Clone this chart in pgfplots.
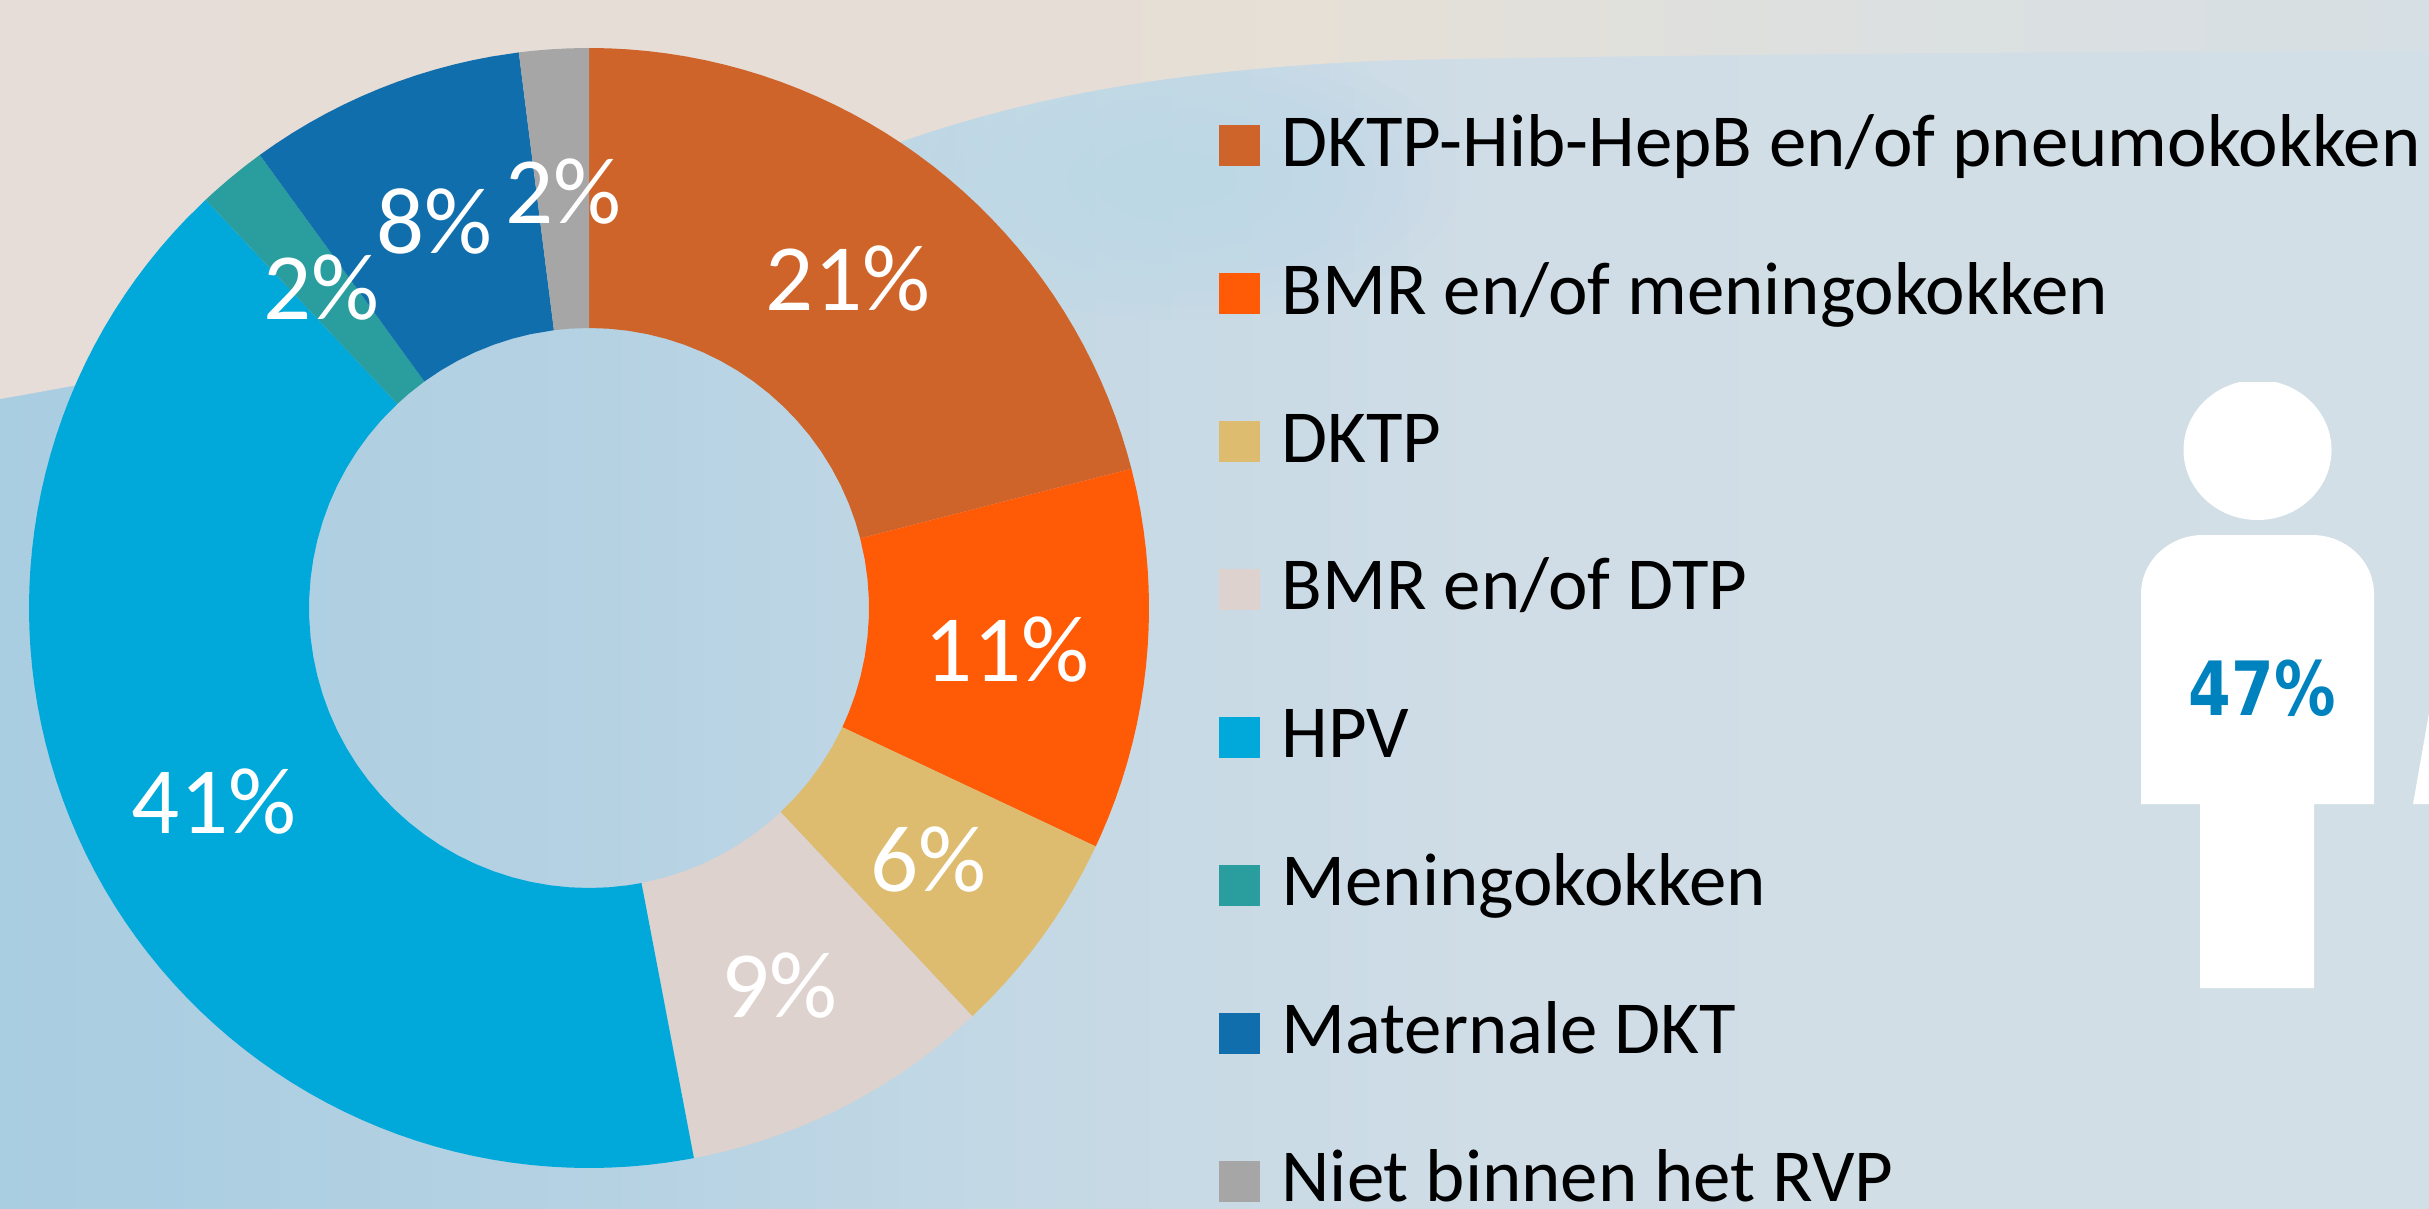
\documentclass[border=0pt]{standalone}
\usepackage{fontspec}
\usepackage{pgfplots}
\pgfplotsset{compat=1.18}
\setmainfont{Carlito}
\newfontfamily\verd{DejaVu Sans}
\definecolor{cA}{HTML}{CF642B}
\definecolor{cB}{HTML}{FF5A05}
\definecolor{cC}{HTML}{DDBC6F}
\definecolor{cD}{HTML}{DDD2CD}
\definecolor{cE}{HTML}{01A9DB}
\definecolor{cF}{HTML}{2A9D9F}
\definecolor{cG}{HTML}{116EAD}
\definecolor{cH}{HTML}{A6A6A6}
\definecolor{b0}{HTML}{A9CDE1}
\definecolor{b1}{HTML}{B5D2E3}
\definecolor{b2}{HTML}{C3D8E5}
\definecolor{b3}{HTML}{D0DDE6}
\definecolor{b4}{HTML}{D3DFE6}
\definecolor{t0}{HTML}{E6DDD8}
\definecolor{t1}{HTML}{E6DDD6}
\definecolor{t2}{HTML}{E6E0D6}
\definecolor{t3}{HTML}{DDE0DF}
\definecolor{t4}{HTML}{D6DFE4}
\definecolor{halo}{HTML}{B6D8E8}
\definecolor{pct}{HTML}{0082BE}
\pgfdeclarehorizontalshading{bgblue}{100bp}{color(0bp)=(b0); color(25bp)=(b0); color(37.5bp)=(b1); color(45.5bp)=(b2); color(56bp)=(b3); color(75bp)=(b4); color(100bp)=(b4)}
\pgfdeclarehorizontalshading{bgtop}{100bp}{color(0bp)=(t0); color(25bp)=(t0); color(45bp)=(t1); color(52bp)=(t2); color(62bp)=(t3); color(75bp)=(t4); color(100bp)=(t4)}
\newcommand{\topband}{(0,-60) -- (0,355) .. controls (400,285) and (650,210) .. (867,110) .. controls (1000,60) and (1150,25) .. (1400,16) .. controls (1700,10) and (2100,8) .. (2429,6) -- (2429,-60) -- cycle}
\begin{document}
\begin{tikzpicture}
\useasboundingbox (0,0) rectangle (242.9mm,120.8mm);
\clip (0,0) rectangle (242.9mm,120.8mm);
\begin{scope}[x=.1mm,y=-.1mm,yshift=120.8mm]
\shade[shading=bgblue] (0,0) rectangle (2429,1208);
\foreach \r in {1,.9,.8,.7,.6,.5,.4,.3,.2}{
  \fill[halo,opacity=.07] (1180,180) ellipse [x radius=\r*280,y radius=\r*140];
}
\foreach \s/\o in {-44/1,-40/.12,-35/.12,-30/.12,-25/.12,-20/.12,-15/.12,-10/.12,-5/.12,0/.12,5/.12,10/.12,15/.12,20/.12,25/.12,30/.12,35/.12,40/.12}{
  \begin{scope}[yshift=\s*.1mm]
  \clip \topband;
  \shade[shading=bgtop,opacity=\o] (0,-60) rectangle (2429,460);
  \end{scope}
}
% person pictogram
\begin{scope}
\clip (2100,382.5) rectangle (2429,900);
\fill[white] (2257.5,450) ellipse [x radius=74,y radius=70];
\end{scope}
\fill[white] (2141,804) -- (2141,594) .. controls (2141,560) and (2170,535) .. (2203,535) -- (2312,535) .. controls (2345,535) and (2374,560) .. (2374,594) -- (2374,804) -- (2314,804) -- (2314,988) -- (2200,988) -- (2200,804) -- cycle;
\fill[white] (2413,804) -- (2429,713) -- (2429,804) -- cycle;
\node[font=\verd\bfseries\fontsize{21.3pt}{24pt}\selectfont,text=pct,anchor=base,inner sep=0] at (2262,715) {\scalebox{.82}[1]{47\%}};
\end{scope}
\begin{axis}[
  at={(0,0)},anchor=south west,scale only axis,width=242.9mm,height=120.8mm,
  xmin=-589,xmax=1840,ymin=-600,ymax=608,hide axis,
  legend image code/.code={\fill[#1,draw=none] (0,0) rectangle (4.1mm,4.1mm);},
  legend style={at={(axis cs:630,544)},anchor=north west,draw=none,fill=none,inner sep=0pt,outer sep=0pt,
    row sep=4.3mm,font=\fontsize{21.3pt}{24pt}\selectfont,
    nodes={inner sep=0pt,outer sep=0pt,text height=10.2mm,text depth=0.3mm,anchor=base west},
    /tikz/column 1/.style={column sep=2.15mm}},
  legend cell align=left,
]
\addplot[fill=cA,draw=none,data cs=polar] coordinates {(90,560)(88,560)(86,560)(84,560)(82,560)(80,560)(78,560)(76,560)(74,560)(72,560)(70,560)(68,560)(66,560)(64,560)(62,560)(60,560)(58,560)(56,560)(54,560)(52,560)(50,560)(48,560)(46,560)(44,560)(42,560)(40,560)(38,560)(36,560)(34,560)(32,560)(30,560)(28,560)(26,560)(24,560)(22,560)(20,560)(18,560)(16,560)(14.4,560)(14.4,280)(18,280)(22,280)(26,280)(30,280)(34,280)(38,280)(42,280)(46,280)(50,280)(54,280)(58,280)(62,280)(66,280)(70,280)(74,280)(78,280)(82,280)(86,280)(90,280)} -- cycle;
\addlegendentry{DKTP-Hib-HepB en/of pneumokokken}
\addplot[fill=cB,draw=none,data cs=polar] coordinates {(14.4,560)(12,560)(10,560)(8,560)(6,560)(4,560)(2,560)(0,560)(-2,560)(-4,560)(-6,560)(-8,560)(-10,560)(-12,560)(-14,560)(-16,560)(-18,560)(-20,560)(-22,560)(-24,560)(-25.2,560)(-25.2,280)(-22,280)(-18,280)(-14,280)(-10,280)(-6,280)(-2,280)(2,280)(6,280)(10,280)(14.4,280)} -- cycle;
\addlegendentry{BMR en/of meningokokken}
\addplot[fill=cC,draw=none,data cs=polar] coordinates {(-25.2,560)(-28,560)(-30,560)(-32,560)(-34,560)(-36,560)(-38,560)(-40,560)(-42,560)(-44,560)(-46.8,560)(-46.8,280)(-42,280)(-38,280)(-34,280)(-30,280)(-25.2,280)} -- cycle;
\addlegendentry{DKTP}
\addplot[fill=cD,draw=none,data cs=polar] coordinates {(-46.8,560)(-48,560)(-50,560)(-52,560)(-54,560)(-56,560)(-58,560)(-60,560)(-62,560)(-64,560)(-66,560)(-68,560)(-70,560)(-72,560)(-74,560)(-76,560)(-78,560)(-79.2,560)(-79.2,280)(-74,280)(-70,280)(-66,280)(-62,280)(-58,280)(-54,280)(-50,280)(-46.8,280)} -- cycle;
\addlegendentry{BMR en/of DTP}
\addplot[fill=cE,draw=none,data cs=polar] coordinates {(-79.2,560)(-80,560)(-82,560)(-84,560)(-86,560)(-88,560)(-90,560)(-92,560)(-94,560)(-96,560)(-98,560)(-100,560)(-102,560)(-104,560)(-106,560)(-108,560)(-110,560)(-112,560)(-114,560)(-116,560)(-118,560)(-120,560)(-122,560)(-124,560)(-126,560)(-128,560)(-130,560)(-132,560)(-134,560)(-136,560)(-138,560)(-140,560)(-142,560)(-144,560)(-146,560)(-148,560)(-150,560)(-152,560)(-154,560)(-156,560)(-158,560)(-160,560)(-162,560)(-164,560)(-166,560)(-168,560)(-170,560)(-172,560)(-174,560)(-176,560)(-178,560)(-180,560)(-182,560)(-184,560)(-186,560)(-188,560)(-190,560)(-192,560)(-194,560)(-196,560)(-198,560)(-200,560)(-202,560)(-204,560)(-206,560)(-208,560)(-210,560)(-212,560)(-214,560)(-216,560)(-218,560)(-220,560)(-222,560)(-224,560)(-226.8,560)(-226.8,280)(-222,280)(-218,280)(-214,280)(-210,280)(-206,280)(-202,280)(-198,280)(-194,280)(-190,280)(-186,280)(-182,280)(-178,280)(-174,280)(-170,280)(-166,280)(-162,280)(-158,280)(-154,280)(-150,280)(-146,280)(-142,280)(-138,280)(-134,280)(-130,280)(-126,280)(-122,280)(-118,280)(-114,280)(-110,280)(-106,280)(-102,280)(-98,280)(-94,280)(-90,280)(-86,280)(-82,280)(-79.2,280)} -- cycle;
\addlegendentry{HPV}
\addplot[fill=cF,draw=none,data cs=polar] coordinates {(-226.8,560)(-228,560)(-230,560)(-232,560)(-234,560)(-234,280)(-230,280)(-226.8,280)} -- cycle;
\addlegendentry{Meningokokken}
\addplot[fill=cG,draw=none,data cs=polar] coordinates {(-234,560)(-236,560)(-238,560)(-240,560)(-242,560)(-244,560)(-246,560)(-248,560)(-250,560)(-252,560)(-254,560)(-256,560)(-258,560)(-260,560)(-262.8,560)(-262.8,280)(-258,280)(-254,280)(-250,280)(-246,280)(-242,280)(-238,280)(-234,280)} -- cycle;
\addlegendentry{Maternale DKT}
\addplot[fill=cH,draw=none,data cs=polar] coordinates {(-262.8,560)(-264,560)(-266,560)(-268,560)(-270,560)(-270,280)(-266,280)(-262.8,280)} -- cycle;
\addlegendentry{Niet binnen het RVP}
\foreach \x/\y/\t in {259/329/21\%,418/-42/11\%,339/-252/6\%,190.5/-378/9\%,-375/-194/41\%,-268/320.5/2\%,-155/387/8\%,-26/416/2\%}{
  \edef\temp{\noexpand\node[text=white,font=\noexpand\fontsize{27pt}{30pt}\noexpand\selectfont,inner sep=0pt] at (axis cs:\x,\y) {\t};}
  \temp
}
\end{axis}
\end{tikzpicture}
\end{document}
